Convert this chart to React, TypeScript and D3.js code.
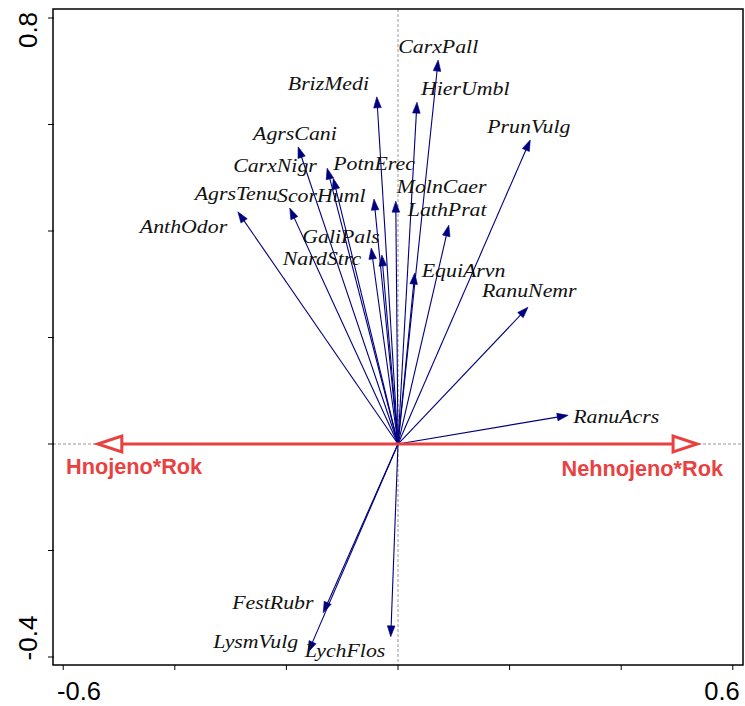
import React from "react";
import * as d3 from "d3";

// species scores (arrow tips)
const species = [
  "CarxPall", "HierUmbl", "BrizMedi", "PrunVulg", "AgrsCani",
  "CarxNigr", "PotnErec", "ScorHuml", "MolnCaer", "AgrsTenu",
  "AnthOdor", "LathPrat", "GaliPals", "NardStrc", "EquiArvn",
  "RanuNemr", "RanuAcrs", "FestRubr", "LysmVulg", "LychFlos"
];
const axis1 = [
  0.072, 0.034, -0.038, 0.237, -0.179,
  -0.127, -0.116, -0.043, -0.004, -0.194,
  -0.287, 0.091, -0.048, -0.029, 0.03,
  0.233, 0.305, -0.134, -0.161, -0.013
];
const axis2 = [
  0.721, 0.642, 0.652, 0.571, 0.558,
  0.518, 0.499, 0.46, 0.456, 0.443,
  0.436, 0.411, 0.368, 0.355, 0.321,
  0.257, 0.054, -0.317, -0.391, -0.362
];

// supplementary (environmental) variables
const envNames = ["Hnojeno*Rok", "Nehnojeno*Rok"];
const envAxis1 = [-0.538, 0.536];
const envAxis2 = [0, 0];

const xTicks = [-0.6, -0.4, -0.2, 0, 0.2, 0.4, 0.6];
const yTicks = [-0.4, -0.2, 0, 0.2, 0.4, 0.6, 0.8];
const xTickLabels = ["-0.6", "0.6"];
const yTickLabels = ["-0.4", "0.8"];

// label placement relative to arrow tip (pixels)
const labelOffsets = [
  [-40, -7], [4, -7], [-89, -7], [-43, -7], [-45, -7],
  [-94, 4], [0, -8], [-97, 3], [1, -8], [-95, -8],
  [-98, 21], [-41, -9], [-69, -5], [-99, 10], [7, 4],
  [-46, -10], [5, 8], [-91, -4], [-95, -4], [-86, 20]
];

const W = 745;
const H = 706;
const left = 53, right = 743, top = 9, bottom = 665;
const navy = "#00007f";
const red = "#e8413f";

export default function App() {
  const x = d3.scaleLinear().domain([-0.6183, 0.6183]).range([left, right]);
  const y = d3.scaleLinear().domain([0.8169, -0.415]).range([top, bottom]);
  const x0 = x(0);
  const y0 = y(0);

  const arrowHead = (tx: number, ty: number, len: number, half: number) => {
    const ang = Math.atan2(ty - y0, tx - x0);
    const bx = tx - len * Math.cos(ang);
    const by = ty - len * Math.sin(ang);
    const px = -Math.sin(ang) * half;
    const py = Math.cos(ang) * half;
    return `M${tx},${ty}L${bx + px},${by + py}L${bx - px},${by - py}Z`;
  };

  return (
    <svg
      width={W}
      height={H}
      style={{ position: "absolute", left: 0, top: 0, background: "#fff" }}
    >
      {/* zero lines */}
      <line x1={x0} x2={x0} y1={top} y2={bottom} stroke="#999" strokeDasharray="3,2" strokeWidth={1} />
      <line x1={left} x2={right} y1={y0} y2={y0} stroke="#999" strokeDasharray="3,2" strokeWidth={1} />

      {/* species arrows */}
      {species.map((s, i) => {
        const tx = x(axis1[i]);
        const ty = y(axis2[i]);
        const ang = Math.atan2(ty - y0, tx - x0);
        const ex = tx - 8 * Math.cos(ang);
        const ey = ty - 8 * Math.sin(ang);
        return (
          <g key={s}>
            <line x1={x0} y1={y0} x2={ex} y2={ey} stroke={navy} strokeWidth={1.1} />
            <path d={arrowHead(tx, ty, 11, 3.8)} fill={navy} stroke={navy} strokeWidth={0.6} />
          </g>
        );
      })}

      {/* environmental arrows */}
      {envNames.map((n, i) => {
        const tx = x(envAxis1[i]);
        const ty = y(envAxis2[i]);
        const dir = tx > x0 ? 1 : -1;
        return (
          <g key={n}>
            <line x1={x0} y1={y0} x2={tx - dir * 24} y2={ty} stroke={red} strokeWidth={3} />
            <path
              d={`M${tx},${ty}L${tx - dir * 24},${ty - 8}L${tx - dir * 24},${ty + 8}Z`}
              fill="#fff"
              stroke={red}
              strokeWidth={3}
              strokeLinejoin="miter"
            />
          </g>
        );
      })}
      <text x={66} y={474} fill={red} fontFamily="Liberation Sans, Arial, sans-serif" fontWeight="bold" fontSize={21.7}>
        {envNames[0]}
      </text>
      <text x={723} y={476} fill={red} textAnchor="end" fontFamily="Liberation Sans, Arial, sans-serif" fontWeight="bold" fontSize={21.7}>
        {envNames[1]}
      </text>

      {/* species labels */}
      {species.map((s, i) => {
        const lx = x(axis1[i]) + labelOffsets[i][0];
        const ly = y(axis2[i]) + labelOffsets[i][1];
        return (
          <text
            key={s}
            transform={`translate(${lx},${ly}) scale(1.12,1)`}
            fontFamily="Liberation Serif, Times New Roman, serif"
            fontStyle="italic"
            fontSize={19.5}
            fill="#111"
          >
            {s}
          </text>
        );
      })}

      {/* frame */}
      <rect x={left} y={top} width={right - left} height={bottom - top} fill="none" stroke="#000" strokeWidth={1.5} />

      {/* ticks */}
      {xTicks.map((t) => (
        <line key={"x" + t} x1={x(t)} x2={x(t)} y1={bottom} y2={bottom + 5} stroke="#000" strokeWidth={1} />
      ))}
      {yTicks.map((t) => (
        <line key={"y" + t} x1={left - 5} x2={left + 1} y1={y(t)} y2={y(t)} stroke="#000" strokeWidth={1} />
      ))}

      {/* tick labels */}
      <text x={79} y={700} textAnchor="middle" fontFamily="Liberation Sans, Arial, sans-serif" fontSize={25.5}>
        {xTickLabels[0]}
      </text>
      <text x={722} y={700} textAnchor="middle" fontFamily="Liberation Sans, Arial, sans-serif" fontSize={25.5}>
        {xTickLabels[1]}
      </text>
      <text transform="translate(37,638) rotate(-90)" textAnchor="middle" fontFamily="Liberation Sans, Arial, sans-serif" fontSize={26}>
        {yTickLabels[0]}
      </text>
      <text transform="translate(37,30) rotate(-90)" textAnchor="middle" fontFamily="Liberation Sans, Arial, sans-serif" fontSize={26}>
        {yTickLabels[1]}
      </text>
    </svg>
  );
}
